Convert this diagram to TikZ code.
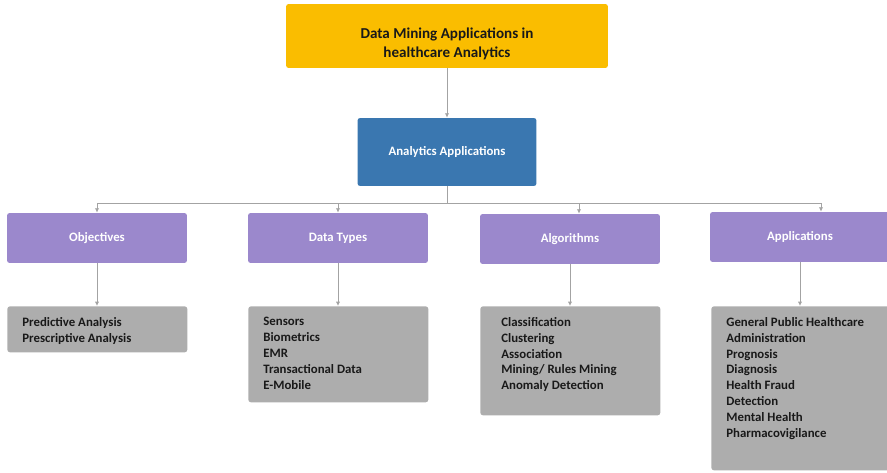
\documentclass[tikz,border=0pt]{standalone}
\usepackage{fontspec}
\setmainfont{Carlito}
\usetikzlibrary{arrows.meta,positioning}
\definecolor{titlegold}{HTML}{FABD00}
\definecolor{anablue}{HTML}{3A77B0}
\definecolor{catpurple}{HTML}{9B88CC}
\definecolor{leafgray}{HTML}{ADADAD}
\definecolor{linkgray}{HTML}{A3A3A3}
\newcommand{\leafbox}[3][3.0cm]{\parbox[c][#2][t]{#1}{\raggedright\vspace*{6.3pt}#3}}

\begin{document}
\begin{tikzpicture}[x=0.02cm, y=-0.02cm,
  box/.style={rounded corners=1.5pt, inner sep=0pt, align=center, font=\bfseries\fontsize{7.3}{9}\selectfont},
  catbox/.style={box, fill=catpurple, text=white, minimum width=3.6cm, minimum height=1.0cm},
  leaf/.style={rounded corners=1.5pt, fill=leafgray, inner xsep=0.3cm, inner ysep=0pt, font=\bfseries\fontsize{7.3}{9}\selectfont, text=black!90, anchor=north west},
  link/.style={linkgray, line width=0.5pt, -{Latex[length=2.5pt,width=2.5pt]}}]
  \useasboundingbox (0,0) rectangle (887,473);
  \node[box, fill=titlegold, text=black!90, minimum width=6.44cm, minimum height=1.28cm, font=\bfseries\fontsize{8.6}{11.2}\selectfont] (top) at (447,36) {\raisebox{-0.16cm}[\height][\depth]{\parbox{6cm}{\centering Data Mining Applications in\\healthcare Analytics}}};
  \node[box, fill=anablue, text=white, minimum width=3.58cm, minimum height=1.36cm] (ana) at (447,152) {Analytics Applications};
  \node[catbox] (obj) at (97,238) {Objectives};
  \node[catbox] (dat) at (338,238) {Data Types};
  \node[catbox] (alg) at (570,239) {Algorithms};
  \node[catbox] (app) at (800,237) {Applications};
  \node[leaf] (objL) at (7,306) {\leafbox{0.92cm}{Predictive Analysis\\Prescriptive Analysis}};
  \node[leaf] (datL) at (248,306) {\leafbox{1.92cm}{Sensors\\Biometrics\\EMR\\Transactional Data\\E-Mobile}};
  \node[leaf, inner xsep=0.42cm] (algL) at (480,306) {\leafbox[2.76cm]{2.18cm}{Classification\\Clustering\\Association\\Mining/ Rules Mining\\Anomaly Detection}};
  \node[leaf] (appL) at (711,306) {\leafbox{3.28cm}{General Public Healthcare\\Administration\\Prognosis\\Diagnosis\\Health Fraud\\Detection\\Mental Health\\Pharmacovigilance}};
  % tree links
  \draw[link] (top) -- (ana);
  \draw[linkgray, line width=0.5pt] (ana.south) -- ++(0,17) coordinate (bus);
  \draw[linkgray, line width=0.5pt] (bus -| obj.north) -- (bus -| app.north) -- ++(21,0);
  \draw[link] (bus -| obj.north) -- (obj.north);
  \draw[link] (bus -| dat.north) -- (dat.north);
  \draw[link] ([xshift=0.18cm]bus -| alg.north) -- ([xshift=0.18cm]alg.north);
  \draw[link] ([xshift=0.42cm]bus -| app.north) -- ([xshift=0.42cm]app.north);
  \draw[link] (obj.south) -- (obj.south |- objL.north);
  \draw[link] (dat.south) -- (dat.south |- datL.north);
  \draw[link] (alg.south) -- (alg.south |- algL.north);
  \draw[link] (app.south) -- (app.south |- appL.north);
\end{tikzpicture}
\end{document}
